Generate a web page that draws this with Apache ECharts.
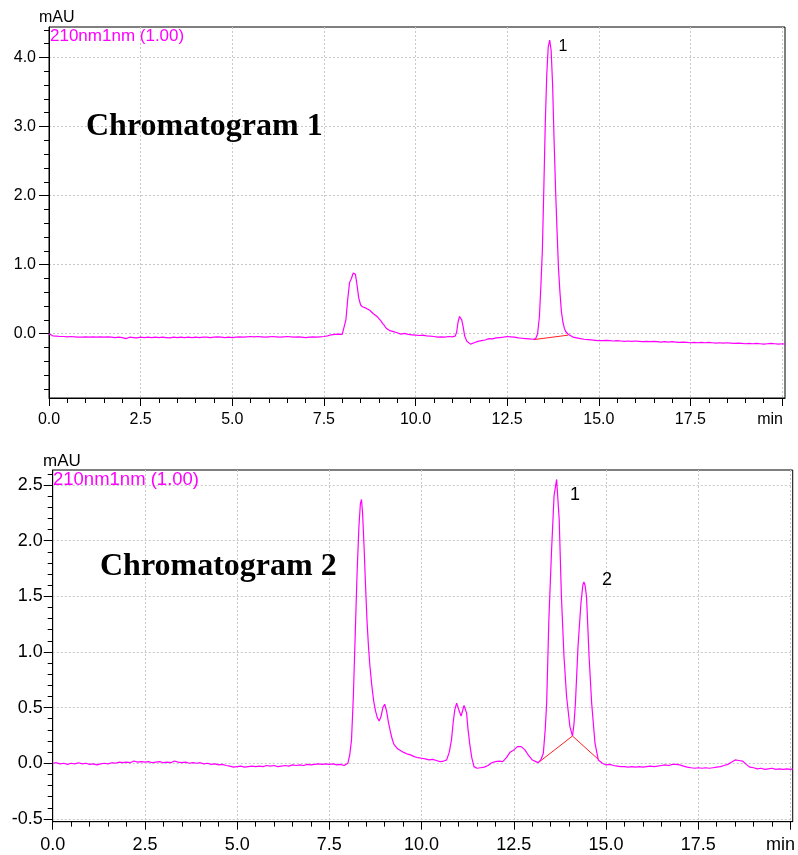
<!DOCTYPE html>
<html>
<head>
<meta charset="utf-8">
<script src="https://cdn.jsdelivr.net/npm/echarts@6/dist/echarts.min.js"></script>
<style>
html,body{margin:0;padding:0;background:#fff;}
#c{width:798px;height:855px;}
</style>
</head>
<body>
<div id="c"></div>
<script>
// ---- Data (time in min, absorbance in mAU) ----
const trace1 = [
[0.00,0.00],[0.05,0.00],[0.10,-0.03],[0.2,-0.035],[0.3,-0.04],[0.4,-0.04],[0.5,-0.045],[0.6,-0.04],[0.7,-0.045],[0.8,-0.05],[0.9,-0.05],
[1.0,-0.045],[1.1,-0.05],[1.2,-0.045],[1.3,-0.05],[1.4,-0.045],[1.5,-0.05],[1.6,-0.045],[1.7,-0.05],[1.8,-0.055],[1.9,-0.05],
[2.0,-0.055],[2.1,-0.07],[2.2,-0.05],[2.3,-0.055],[2.4,-0.06],[2.5,-0.05],[2.6,-0.055],[2.7,-0.05],[2.8,-0.055],[2.9,-0.05],
[3.0,-0.055],[3.1,-0.05],[3.2,-0.055],[3.3,-0.06],[3.4,-0.05],[3.5,-0.055],[3.6,-0.05],[3.7,-0.055],[3.8,-0.05],[3.9,-0.055],
[4.0,-0.05],[4.1,-0.055],[4.2,-0.05],[4.3,-0.05],[4.4,-0.055],[4.5,-0.05],[4.6,-0.045],[4.7,-0.05],[4.8,-0.055],[4.9,-0.05],
[5.0,-0.055],[5.1,-0.05],[5.2,-0.045],[5.3,-0.05],[5.4,-0.045],[5.5,-0.04],[5.6,-0.045],[5.7,-0.04],[5.8,-0.045],[5.9,-0.05],
[6.0,-0.045],[6.1,-0.04],[6.2,-0.045],[6.3,-0.05],[6.4,-0.045],[6.5,-0.04],[6.6,-0.045],[6.7,-0.05],[6.8,-0.045],[6.9,-0.05],
[7.0,-0.055],[7.1,-0.05],[7.2,-0.045],[7.3,-0.05],[7.4,-0.045],[7.5,-0.04],[7.6,-0.03],[7.7,-0.015],[7.8,-0.01],[7.9,-0.005],
[8.0,-0.01],[8.05,0.0],[8.1,0.2],[8.15,0.5],[8.2,0.74],[8.25,0.8],[8.3,0.88],[8.33,0.9],[8.36,0.86],[8.4,0.72],[8.45,0.52],
[8.5,0.42],[8.55,0.39],[8.6,0.38],[8.65,0.37],[8.7,0.36],[8.75,0.34],[8.8,0.32],[8.85,0.29],[8.9,0.27],[8.95,0.25],
[9.0,0.22],[9.05,0.19],[9.1,0.15],[9.15,0.12],[9.2,0.08],[9.25,0.06],[9.3,0.045],[9.35,0.04],[9.4,0.03],[9.5,0.015],
[9.6,-0.005],[9.7,0.005],[9.8,-0.01],[9.9,-0.015],[10.0,-0.02],[10.1,-0.025],[10.2,-0.02],[10.3,-0.03],[10.4,-0.035],
[10.5,-0.04],[10.6,-0.05],[10.7,-0.045],[10.8,-0.05],[10.9,-0.04],[11.0,-0.045],[11.08,-0.035],[11.12,0.02],[11.16,0.17],
[11.2,0.25],[11.22,0.26],[11.26,0.2],[11.3,0.1],[11.34,-0.03],[11.4,-0.11],[11.5,-0.15],[11.6,-0.13],[11.7,-0.11],
[11.8,-0.1],[11.9,-0.09],[12.0,-0.07],[12.1,-0.075],[12.2,-0.06],[12.3,-0.055],[12.4,-0.05],[12.5,-0.04],[12.6,-0.045],
[12.7,-0.05],[12.8,-0.06],[12.9,-0.065],[13.0,-0.07],[13.1,-0.075],[13.2,-0.08],[13.28,-0.07],[13.33,0.0],[13.38,0.25],
[13.42,0.7],[13.46,1.2],[13.5,2.1],[13.54,3.05],[13.58,3.75],[13.62,4.15],[13.66,4.25],[13.7,4.1],[13.74,3.6],[13.78,2.8],
[13.82,2.1],[13.86,1.5],[13.9,0.95],[13.94,0.6],[13.98,0.32],[14.02,0.17],[14.06,0.08],[14.1,0.03],[14.15,0.0],[14.2,-0.02],
[14.3,-0.05],[14.4,-0.06],[14.5,-0.07],[14.6,-0.08],[14.7,-0.085],[14.8,-0.09],[14.9,-0.095],[15.0,-0.1],[15.1,-0.1],
[15.2,-0.095],[15.3,-0.1],[15.4,-0.105],[15.5,-0.1],[15.6,-0.105],[15.7,-0.11],[15.8,-0.105],[15.9,-0.11],[16.0,-0.105],
[16.1,-0.11],[16.2,-0.115],[16.3,-0.11],[16.4,-0.115],[16.5,-0.11],[16.6,-0.115],[16.7,-0.12],[16.8,-0.115],[16.9,-0.12],
[17.0,-0.115],[17.1,-0.12],[17.2,-0.125],[17.3,-0.12],[17.4,-0.125],[17.5,-0.13],[17.6,-0.125],[17.7,-0.13],[17.8,-0.125],
[17.9,-0.13],[18.0,-0.125],[18.1,-0.13],[18.2,-0.135],[18.3,-0.13],[18.4,-0.135],[18.5,-0.13],[18.6,-0.135],[18.7,-0.14],
[18.8,-0.135],[18.9,-0.14],[19.0,-0.145],[19.1,-0.14],[19.2,-0.145],[19.3,-0.14],[19.4,-0.145],[19.5,-0.15],[19.6,-0.145],
[19.7,-0.14],[19.8,-0.145],[19.9,-0.15],[20.0,-0.145],[20.08,-0.15]
];
const baseline1 = [[13.22,-0.085],[14.17,-0.02]];

const trace2 = [
[0.0,0.0],[0.1,0.005],[0.2,-0.005],[0.3,0.0],[0.4,-0.01],[0.5,0.0],[0.6,-0.005],[0.7,0.005],[0.8,-0.005],[0.9,0.0],
[1.0,-0.01],[1.1,-0.005],[1.2,-0.015],[1.3,-0.005],[1.4,0.0],[1.5,-0.005],[1.6,0.005],[1.7,0.0],[1.8,0.01],[1.9,0.005],
[2.0,0.01],[2.1,0.005],[2.2,0.02],[2.3,0.01],[2.4,0.015],[2.5,0.01],[2.6,0.015],[2.7,0.005],[2.8,0.01],[2.9,0.015],
[3.0,0.005],[3.1,0.01],[3.2,0.005],[3.3,0.02],[3.4,0.01],[3.5,0.005],[3.6,0.01],[3.7,0.0],[3.8,0.005],[3.9,0.0],
[4.0,0.005],[4.1,-0.005],[4.2,0.0],[4.3,-0.01],[4.4,-0.005],[4.5,-0.015],[4.6,-0.01],[4.7,-0.02],[4.8,-0.025],[4.9,-0.035],
[5.0,-0.03],[5.1,-0.025],[5.2,-0.035],[5.3,-0.03],[5.4,-0.025],[5.5,-0.03],[5.6,-0.025],[5.7,-0.03],[5.8,-0.02],[5.9,-0.025],
[6.0,-0.02],[6.1,-0.03],[6.2,-0.025],[6.3,-0.02],[6.4,-0.025],[6.5,-0.015],[6.6,-0.02],[6.7,-0.015],[6.8,-0.02],[6.9,-0.01],
[7.0,-0.015],[7.1,-0.01],[7.2,-0.005],[7.3,-0.01],[7.4,-0.005],[7.5,-0.01],[7.6,-0.005],[7.7,-0.015],[7.8,-0.01],[7.9,-0.02],
[7.95,-0.01],[8.0,0.0],[8.05,0.07],[8.1,0.21],[8.15,0.6],[8.2,1.15],[8.25,1.7],[8.3,2.12],[8.34,2.33],[8.37,2.37],[8.4,2.25],
[8.44,1.95],[8.48,1.6],[8.52,1.28],[8.56,1.05],[8.6,0.87],[8.65,0.7],[8.7,0.56],[8.75,0.47],[8.8,0.41],[8.85,0.38],[8.9,0.42],
[8.95,0.5],[9.0,0.53],[9.05,0.47],[9.1,0.37],[9.15,0.29],[9.2,0.22],[9.25,0.17],[9.3,0.15],[9.35,0.13],[9.4,0.12],[9.5,0.1],
[9.6,0.085],[9.7,0.075],[9.8,0.06],[9.9,0.05],[10.0,0.045],[10.1,0.04],[10.2,0.03],[10.3,0.035],[10.4,0.025],[10.5,0.015],
[10.6,0.02],[10.68,0.03],[10.75,0.1],[10.81,0.21],[10.86,0.38],[10.9,0.48],[10.95,0.54],[10.99,0.53],[11.03,0.46],[11.07,0.425],
[11.11,0.47],[11.15,0.52],[11.18,0.51],[11.22,0.45],[11.26,0.3],[11.31,0.16],[11.36,0.05],[11.42,-0.03],[11.5,-0.045],
[11.6,-0.04],[11.7,-0.035],[11.8,-0.02],[11.9,0.005],[12.0,0.015],[12.1,0.02],[12.2,0.015],[12.3,0.05],[12.4,0.1],[12.5,0.12],
[12.6,0.15],[12.7,0.15],[12.8,0.12],[12.9,0.07],[13.0,0.03],[13.1,0.015],[13.16,0.005],[13.23,0.03],[13.3,0.09],[13.35,0.3],
[13.39,0.54],[13.45,1.29],[13.52,1.89],[13.59,2.4],[13.66,2.55],[13.73,2.19],[13.79,1.5],[13.86,0.96],[13.93,0.6],[14.02,0.33],
[14.09,0.245],[14.13,0.35],[14.17,0.54],[14.24,1.05],[14.32,1.44],[14.37,1.6],[14.40,1.63],[14.43,1.6],[14.47,1.5],[14.54,0.96],
[14.61,0.54],[14.7,0.18],[14.79,0.03],[14.9,0.0],[15.0,-0.015],[15.1,-0.01],[15.2,-0.02],[15.3,-0.025],[15.4,-0.03],[15.5,-0.03],
[15.6,-0.035],[15.7,-0.03],[15.8,-0.035],[15.9,-0.03],[16.0,-0.035],[16.1,-0.03],[16.2,-0.025],[16.3,-0.03],[16.4,-0.025],
[16.5,-0.02],[16.6,-0.015],[16.7,-0.02],[16.8,-0.01],[16.9,-0.01],[17.0,-0.015],[17.1,-0.025],[17.2,-0.035],[17.3,-0.04],
[17.4,-0.045],[17.5,-0.04],[17.6,-0.045],[17.7,-0.04],[17.8,-0.045],[17.9,-0.04],[18.0,-0.035],[18.1,-0.03],[18.2,-0.02],
[18.3,-0.01],[18.4,0.01],[18.5,0.03],[18.55,0.04],[18.6,0.025],[18.7,0.02],[18.8,-0.01],[18.9,-0.035],[19.0,-0.04],
[19.1,-0.05],[19.2,-0.045],[19.3,-0.055],[19.4,-0.05],[19.5,-0.045],[19.6,-0.055],[19.7,-0.05],[19.8,-0.055],[19.9,-0.05],
[20.0,-0.055],[20.06,-0.05]
];
const baseline2 = [[13.16,0.005],[14.09,0.245],[14.79,0.035]];

// Tick values
const xMajorTicks = [0,2.5,5,7.5,10,12.5,15,17.5,20];
const xMinorTicks = [0.5,1,1.5,2,3,3.5,4,4.5,5.5,6,6.5,7,8,8.5,9,9.5,10.5,11,11.5,12,13,13.5,14,14.5,15.5,16,16.5,17,18,18.5,19,19.5];
const y1MajorTicks = [0,1,2,3,4];
const y1MinorTicks = [-0.8,-0.6,-0.4,-0.2,0.2,0.4,0.6,0.8,1.2,1.4,1.6,1.8,2.2,2.4,2.6,2.8,3.2,3.4,3.6,3.8,4.2,4.4];
const y2MajorTicks = [-0.5,0,0.5,1,1.5,2,2.5];
const y2MinorTicks = [-0.4,-0.3,-0.2,-0.1,0.1,0.2,0.3,0.4,0.6,0.7,0.8,0.9,1.1,1.2,1.3,1.4,1.6,1.7,1.8,1.9,2.1,2.2,2.3,2.4,2.6];

const titles = ['Chromatogram 1','Chromatogram 2'];
const channelLabel = '210nm1nm (1.00)';
const unitLabel = 'mAU';

const SANS = '"Liberation Sans", Arial, sans-serif';
const SERIF = '"Liberation Serif", "Times New Roman", serif';
const GRIDC = '#c8c8c8';

function xAxes(gi, max, fs, shift) {
  return [
    {type:'value', gridIndex:gi, min:0, max:max, position:'bottom',
     axisLine:{show:true, onZero:false, lineStyle:{color:'#000', width:1}},
     axisTick:{show:true, length:8, customValues:xMajorTicks, lineStyle:{color:'#000'}},
     axisLabel:{customValues:xMajorTicks, margin:14, fontSize:fs, color:'#000', fontFamily:SANS,
       formatter:v => v === 20 ? '{m|min}' : v.toFixed(1),
       rich:{m:{fontSize:fs, fontFamily:SANS, color:'#000', padding:[0,shift,0,0]}}},
     splitLine:{show:true, lineStyle:{color:GRIDC, type:[2,2], width:1}}},
    {type:'value', gridIndex:gi, min:0, max:max, position:'bottom',
     axisLine:{show:false, onZero:false},
     axisTick:{show:true, length:5, customValues:xMinorTicks, lineStyle:{color:'#000'}},
     axisLabel:{show:false}, splitLine:{show:false}}
  ];
}
function yAxes(gi, min, max, major, minor, fs, margin, majLen) {
  return [
    {type:'value', gridIndex:gi, min:min, max:max, position:'left',
     axisLine:{show:true, onZero:false, lineStyle:{color:'#000', width:1}},
     axisTick:{show:true, length:majLen, customValues:major, lineStyle:{color:'#000'}},
     axisLabel:{customValues:major, margin:margin, fontSize:fs, color:'#000', fontFamily:SANS,
       formatter:v => v.toFixed(1)},
     splitLine:{show:true, lineStyle:{color:GRIDC, type:[2,2], width:1}}},
    {type:'value', gridIndex:gi, min:min, max:max, position:'left',
     axisLine:{show:false, onZero:false},
     axisTick:{show:true, length:5, customValues:minor, lineStyle:{color:'#000'}},
     axisLabel:{show:false}, splitLine:{show:false}}
  ];
}

const chart = echarts.init(document.getElementById('c'), null, {renderer:'canvas'});
const option = {
  animation:false,
  backgroundColor:'#fff',
  grid:[
    {left:49, top:27, width:736, height:371, show:true, borderColor:'#000', borderWidth:1, backgroundColor:'transparent', containLabel:false},
    {left:52.7, top:470, width:740.3, height:351.7, show:true, borderColor:'#000', borderWidth:1, backgroundColor:'transparent', containLabel:false}
  ],
  xAxis:[].concat(xAxes(0, 20.08, 16, 24), xAxes(1, 20.06, 18, 20)),
  yAxis:[].concat(yAxes(0, -0.93, 4.44, y1MajorTicks, y1MinorTicks, 16, 13, 10),
                  yAxes(1, -0.525, 2.635, y2MajorTicks, y2MinorTicks, 18, 10, 9)),
  series:[
    {type:'line', name:'base1', xAxisIndex:0, yAxisIndex:0, data:baseline1, showSymbol:false, symbol:'none',
     lineStyle:{color:'#ff2020', width:1}, z:2, silent:true},
    {type:'line', name:'trace1', xAxisIndex:0, yAxisIndex:0, data:trace1, showSymbol:false, symbol:'none',
     lineStyle:{color:'#ff00ff', width:1.2}, z:3, silent:true},
    {type:'line', name:'base2', xAxisIndex:2, yAxisIndex:2, data:baseline2, showSymbol:false, symbol:'none',
     lineStyle:{color:'#ff2020', width:1}, z:2, silent:true},
    {type:'line', name:'trace2', xAxisIndex:2, yAxisIndex:2, data:trace2, showSymbol:false, symbol:'none',
     lineStyle:{color:'#ff00ff', width:1.2}, z:3, silent:true}
  ],
  graphic:[
    {type:'text', left:39, top:10, z:100, style:{text:unitLabel, font:'16px '+SANS, fill:'#000'}},
    {type:'text', left:50, top:28, z:100, style:{text:channelLabel, font:'17px '+SANS, fill:'#ff00ff'}},
    {type:'text', left:86, top:111, z:100, style:{text:titles[0], font:'bold 32px '+SERIF, fill:'#000'}},
    {type:'text', x:563, y:47, z:100, style:{text:'1', font:'16px '+SANS, fill:'#000', align:'center', verticalAlign:'middle'}},
    {type:'text', left:43, top:453, z:100, style:{text:unitLabel, font:'17px '+SANS, fill:'#000'}},
    {type:'text', left:53, top:470, z:100, style:{text:channelLabel, font:'18.5px '+SANS, fill:'#ff00ff'}},
    {type:'text', left:100, top:551, z:100, style:{text:titles[1], font:'bold 32px '+SERIF, fill:'#000'}},
    {type:'text', x:575, y:495, z:100, style:{text:'1', font:'18px '+SANS, fill:'#000', align:'center', verticalAlign:'middle'}},
    {type:'text', x:607, y:580, z:100, style:{text:'2', font:'18px '+SANS, fill:'#000', align:'center', verticalAlign:'middle'}}
  ]
};
chart.setOption(option);
</script>
</body>
</html>
